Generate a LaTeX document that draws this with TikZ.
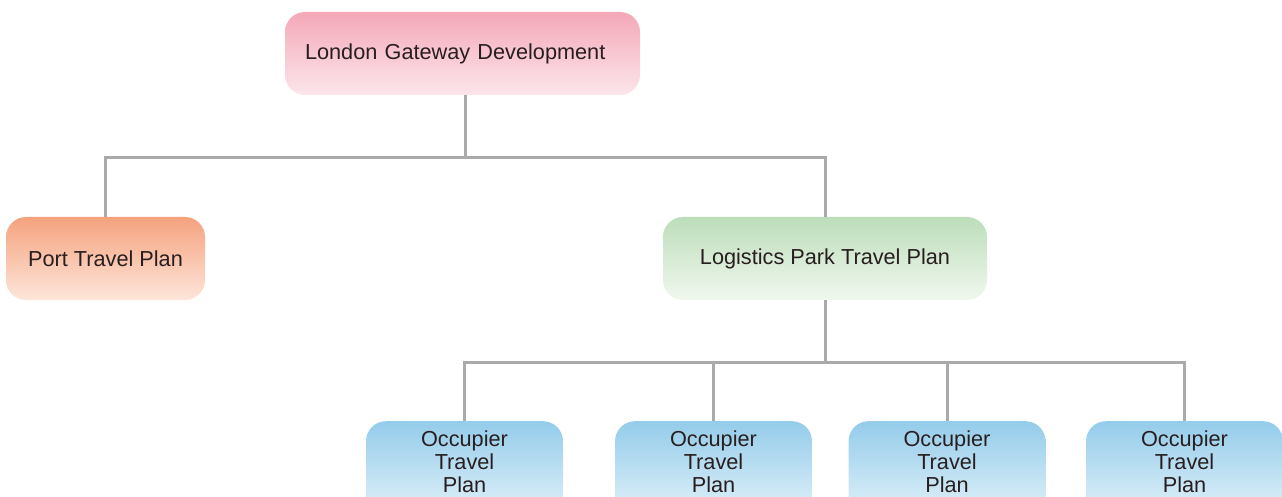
\documentclass[tikz,border=0pt]{standalone}
\usepackage{fontspec}
\setmainfont{Liberation Sans}
\definecolor{linegrey}{RGB}{170,170,170}
\definecolor{txt}{RGB}{40,30,32}
\definecolor{pinktop}{RGB}{244,168,184}
\definecolor{pinkbot}{RGB}{252,230,235}
\definecolor{orangetop}{RGB}{245,162,126}
\definecolor{orangebot}{RGB}{253,230,218}
\definecolor{greentop}{RGB}{188,221,186}
\definecolor{greenbot}{RGB}{241,248,239}
\definecolor{bluetop}{RGB}{148,204,234}
\definecolor{bluebot}{RGB}{240,248,252}

\begin{document}
\begin{tikzpicture}[x=1pt, y=-1pt,
    plan/.style={rounded corners=20pt, minimum height=83pt, text=txt,
        font=\fontsize{21.7}{23}\selectfont, inner sep=0pt},
    link/.style={draw=linegrey, line width=3pt}]
\useasboundingbox (0,0) rectangle (1282,497);
\clip (0,0) rectangle (1282,497);

    \node [plan, top color=pinktop, bottom color=pinkbot, minimum width=355pt,
        text width=315pt, inner xsep=20pt, align=left] (dev) at (462.5,53.5) {London Gateway Development};
    \node [plan, top color=orangetop, bottom color=orangebot, minimum width=199pt] (port) at (105.5,258.5) {Port Travel Plan};
    \node [plan, top color=greentop, bottom color=greenbot, minimum width=324pt] (park) at (825,258.5) {Logistics Park Travel Plan};

    \foreach \i/\x in {1/464.5, 2/713.5, 3/947, 4/1184.5}
        \node [plan, top color=bluetop, bottom color=bluebot, minimum width=197pt,
            minimum height=0pt, anchor=north, inner ysep=10pt, text depth=30pt, align=center] (occ\i) at (\x,421) {Occupier\\Travel\\Plan};

    \draw [link] (dev.south) ++(2.5,0) -- ++(0,62) -| (port.north);
    \draw [link] (dev.south) ++(2.5,0) -- ++(0,62) -| (park.north);
    \foreach \i in {1,...,4}
        \draw [link] (park.south) -- ++(0,62) -| (occ\i.north);

\end{tikzpicture}
\end{document}
